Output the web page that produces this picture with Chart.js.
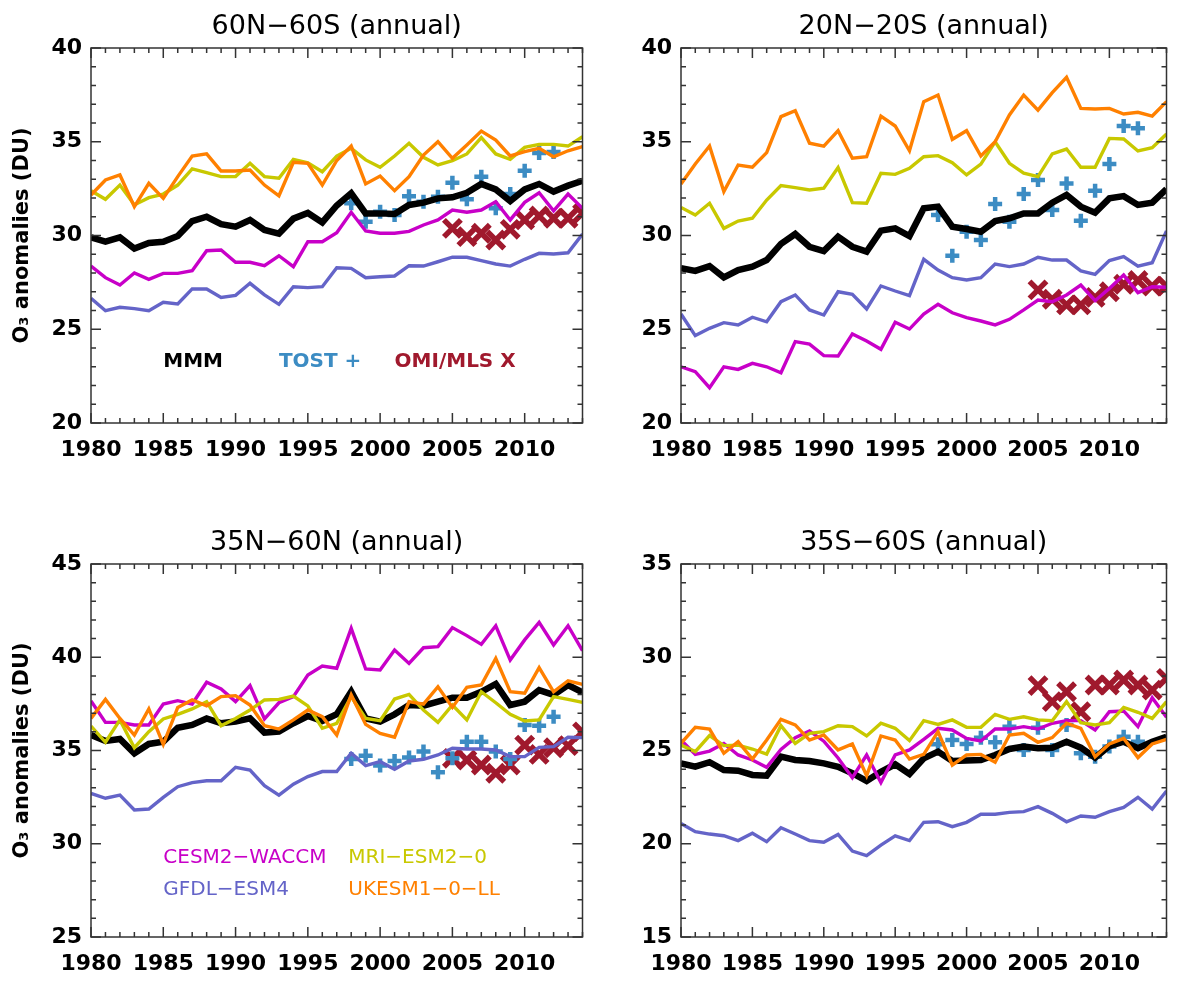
<!DOCTYPE html>
<html>
<head>
    <title>O3 anomalies</title>
    <script src="https://cdn.jsdelivr.net/npm/chart.js"></script>
    <style>
        body { margin: 0; background: #fff; }
        canvas { position: absolute; }
    </style>
</head>
<body>
    <canvas id="p1" width="600" height="491" style="left:0px;top:0px"></canvas>
    <canvas id="p2" width="584" height="491" style="left:600px;top:0px"></canvas>
    <canvas id="p3" width="600" height="491" style="left:0px;top:491px"></canvas>
    <canvas id="p4" width="584" height="491" style="left:600px;top:491px"></canvas>
    <script>
        // Years covered by the models, and by the two observation records
        const years = [1980, 1981, 1982, 1983, 1984, 1985, 1986, 1987, 1988, 1989,
                       1990, 1991, 1992, 1993, 1994, 1995, 1996, 1997, 1998, 1999,
                       2000, 2001, 2002, 2003, 2004, 2005, 2006, 2007, 2008, 2009,
                       2010, 2011, 2012, 2013, 2014];
        const tostYears = [1998, 1999, 2000, 2001, 2002, 2003, 2004, 2005, 2006, 2007, 2008, 2009, 2010, 2011, 2012];
        const omiYears = [2005, 2006, 2007, 2008, 2009, 2010, 2011, 2012, 2013, 2014];

        // 60N-60S
        const mmmGlobal = [29.9, 29.67, 29.9, 29.3, 29.6, 29.67, 29.97, 30.77, 31.0, 30.6, 30.47, 30.83, 30.3, 30.1, 30.9, 31.2, 30.7, 31.6, 32.25, 31.18, 31.18, 31.15, 31.63, 31.75, 31.98, 32.04, 32.28, 32.75, 32.46, 31.84, 32.46, 32.75, 32.34, 32.66, 32.92];
        const cesmGlobal = [28.37, 27.75, 27.36, 28.0, 27.66, 27.98, 27.98, 28.12, 29.19, 29.23, 28.57, 28.57, 28.39, 28.92, 28.34, 29.67, 29.67, 30.15, 31.24, 30.24, 30.12, 30.12, 30.22, 30.56, 30.83, 31.36, 31.24, 31.36, 31.8, 30.83, 31.77, 32.28, 31.32, 32.21, 31.45];
        const gfdlGlobal = [26.65, 25.99, 26.17, 26.1, 25.99, 26.44, 26.35, 27.15, 27.15, 26.7, 26.81, 27.45, 26.83, 26.33, 27.27, 27.22, 27.27, 28.28, 28.25, 27.75, 27.8, 27.84, 28.39, 28.37, 28.6, 28.84, 28.84, 28.66, 28.48, 28.37, 28.73, 29.05, 29.01, 29.08, 30.08];
        const mriGlobal = [32.39, 31.93, 32.69, 31.63, 32.02, 32.21, 32.69, 33.55, 33.35, 33.14, 33.14, 33.85, 33.14, 33.05, 34.06, 33.88, 33.4, 34.24, 34.65, 34.03, 33.64, 34.24, 34.92, 34.17, 33.76, 33.99, 34.35, 35.22, 34.35, 34.06, 34.7, 34.86, 34.86, 34.77, 35.27];
        const ukesmGlobal = [32.16, 32.96, 33.23, 31.54, 32.78, 31.98, 33.14, 34.24, 34.35, 33.44, 33.44, 33.49, 32.69, 32.12, 33.9, 33.85, 32.69, 34.0, 34.77, 32.75, 33.17, 32.39, 33.14, 34.29, 35.0, 34.12, 34.83, 35.57, 35.09, 34.24, 34.47, 34.65, 34.2, 34.52, 34.74];
        const tostGlobal = [31.72, 30.74, 31.27, 31.09, 32.1, 31.8, 32.07, 32.82, 31.93, 33.14, 31.45, 32.21, 33.46, 34.4, 34.45];
        const omiGlobal = [30.38, 29.94, 30.12, 29.76, 30.33, 30.83, 31.04, 30.92, 30.92, 31.18];

        // 20N-20S
        const mmmTropics = [28.25, 28.11, 28.37, 27.77, 28.16, 28.34, 28.69, 29.55, 30.08, 29.4, 29.17, 29.94, 29.4, 29.14, 30.26, 30.38, 29.97, 31.45, 31.54, 30.47, 30.35, 30.2, 30.77, 30.92, 31.18, 31.18, 31.75, 32.16, 31.54, 31.22, 31.98, 32.1, 31.63, 31.75, 32.48];
        const cesmTropics = [23.0, 22.74, 21.88, 23.0, 22.86, 23.18, 23.0, 22.68, 24.34, 24.21, 23.59, 23.57, 24.75, 24.37, 23.93, 25.37, 25.01, 25.81, 26.33, 25.88, 25.62, 25.44, 25.23, 25.53, 26.03, 26.56, 26.47, 26.83, 27.36, 26.52, 27.18, 27.89, 26.95, 27.27, 27.24];
        const gfdlTropics = [25.81, 24.66, 25.05, 25.35, 25.23, 25.64, 25.4, 26.47, 26.83, 26.03, 25.76, 27.0, 26.86, 26.08, 27.31, 27.04, 26.79, 28.73, 28.16, 27.75, 27.63, 27.75, 28.48, 28.34, 28.48, 28.84, 28.69, 28.69, 28.11, 27.93, 28.66, 28.87, 28.37, 28.55, 30.24];
        const mriTropics = [31.5, 31.09, 31.72, 30.38, 30.77, 30.92, 31.89, 32.66, 32.55, 32.43, 32.52, 33.62, 31.75, 31.72, 33.32, 33.26, 33.58, 34.2, 34.26, 33.88, 33.23, 33.81, 35.0, 33.85, 33.32, 33.14, 34.35, 34.61, 33.64, 33.64, 35.18, 35.15, 34.51, 34.68, 35.41];
        const ukesmTropics = [32.75, 33.81, 34.77, 32.34, 33.76, 33.64, 34.42, 36.34, 36.66, 34.92, 34.77, 35.59, 34.12, 34.2, 36.37, 35.84, 34.52, 37.14, 37.49, 35.13, 35.59, 34.24, 35.0, 36.43, 37.49, 36.69, 37.62, 38.44, 36.78, 36.75, 36.78, 36.48, 36.57, 36.37, 37.14];
        const tostTropics = [31.09, 28.92, 30.2, 29.76, 31.68, 30.74, 32.21, 32.96, 31.36, 32.78, 30.79, 32.39, 33.81, 35.84, 35.72];
        const omiTropics = [27.1, 26.6, 26.3, 26.3, 26.7, 27.0, 27.4, 27.6, 27.3, 27.3];

        // 35N-60N
        const mmmNorth = [35.83, 35.51, 35.62, 34.85, 35.35, 35.47, 36.22, 36.37, 36.72, 36.46, 36.55, 36.72, 35.96, 36.01, 36.46, 36.85, 36.58, 36.94, 38.15, 36.72, 36.55, 36.94, 37.44, 37.4, 37.62, 37.83, 37.83, 38.15, 38.57, 37.44, 37.62, 38.24, 37.98, 38.51, 38.12];
        const cesmNorth = [37.65, 36.51, 36.51, 36.37, 36.37, 37.49, 37.67, 37.49, 38.66, 38.3, 37.62, 38.48, 36.69, 37.56, 37.89, 39.05, 39.53, 39.41, 41.55, 39.37, 39.32, 40.39, 39.67, 40.51, 40.57, 41.59, 41.16, 40.69, 41.69, 39.85, 40.93, 41.87, 40.66, 41.69, 40.35];
        const gfdlNorth = [32.7, 32.44, 32.61, 31.81, 31.86, 32.49, 33.06, 33.28, 33.38, 33.38, 34.1, 33.95, 33.11, 32.61, 33.19, 33.6, 33.87, 33.87, 34.85, 34.19, 34.4, 33.99, 34.44, 34.53, 34.76, 35.12, 35.08, 35.08, 35.03, 34.67, 34.67, 35.17, 35.21, 35.71, 35.69];
        const mriNorth = [36.31, 35.44, 36.64, 35.15, 36.01, 36.69, 36.94, 37.23, 37.62, 36.33, 36.72, 37.17, 37.71, 37.74, 37.92, 37.39, 36.19, 36.46, 37.89, 36.72, 36.6, 37.76, 38.01, 37.17, 36.51, 37.44, 36.64, 38.15, 37.56, 36.94, 36.58, 36.64, 37.89, 37.74, 37.58];
        const ukesmNorth = [36.72, 37.74, 36.72, 35.83, 37.23, 35.33, 37.31, 37.71, 37.4, 37.89, 37.94, 37.44, 36.33, 36.15, 36.64, 37.17, 36.81, 35.83, 37.98, 36.4, 35.92, 35.71, 37.62, 37.49, 38.42, 37.31, 38.39, 38.51, 39.94, 38.15, 38.07, 39.44, 38.15, 38.74, 38.55];
        const tostNorth = [34.54, 34.72, 34.19, 34.44, 34.62, 34.94, 33.83, 34.58, 35.47, 35.47, 34.94, 34.54, 36.37, 36.33, 36.81];
        const omiNorth = [34.58, 34.49, 34.22, 33.78, 34.22, 35.29, 34.79, 35.15, 35.26, 36.0];

        // 35S-60S
        const mmmSouth = [24.31, 24.13, 24.37, 23.95, 23.92, 23.69, 23.65, 24.67, 24.49, 24.44, 24.31, 24.13, 23.78, 23.36, 23.86, 24.26, 23.74, 24.58, 24.94, 24.44, 24.46, 24.49, 24.76, 25.08, 25.21, 25.12, 25.15, 25.47, 25.15, 24.62, 25.24, 25.47, 25.12, 25.47, 25.74];
        const cesmSouth = [25.56, 24.79, 24.97, 25.38, 24.76, 24.49, 24.1, 25.06, 25.69, 26.05, 25.5, 24.6, 23.54, 24.76, 23.28, 24.76, 25.03, 25.6, 26.19, 26.1, 25.65, 25.51, 26.15, 26.15, 26.28, 26.15, 26.46, 26.6, 26.6, 26.1, 27.08, 27.12, 26.28, 27.83, 26.78];
        const gfdlSouth = [21.09, 20.65, 20.52, 20.43, 20.17, 20.56, 20.11, 20.86, 20.52, 20.17, 20.08, 20.5, 19.61, 19.36, 19.93, 20.42, 20.17, 21.15, 21.18, 20.92, 21.15, 21.58, 21.58, 21.68, 21.72, 21.99, 21.63, 21.18, 21.49, 21.42, 21.72, 21.95, 22.49, 21.86, 22.83];
        const mriSouth = [25.29, 24.94, 25.8, 25.26, 25.29, 25.08, 24.81, 26.33, 25.38, 25.92, 26.01, 26.33, 26.28, 25.78, 26.46, 26.19, 25.53, 26.6, 26.4, 26.64, 26.24, 26.24, 26.94, 26.67, 26.81, 26.64, 26.6, 27.62, 26.49, 26.37, 26.49, 27.31, 27.05, 26.72, 27.62];
        const ukesmSouth = [25.38, 26.24, 26.15, 24.85, 25.47, 24.54, 25.56, 26.67, 26.37, 25.56, 25.83, 25.03, 25.35, 23.65, 25.78, 25.56, 24.54, 24.79, 26.01, 24.22, 24.76, 24.79, 24.37, 25.83, 25.92, 25.44, 25.69, 26.46, 26.19, 24.67, 25.35, 25.65, 24.62, 25.35, 25.6];
        const tostSouth = [25.33, 25.56, 25.35, 25.69, 25.44, 26.28, 25.03, 26.22, 25.03, 26.37, 24.85, 24.67, 25.21, 25.74, 25.47];
        const omiSouth = [28.48, 27.62, 28.15, 27.08, 28.51, 28.51, 28.78, 28.51, 28.24, 28.87];

        const colors = {
            mmm: '#000000',
            cesm: 'rgb(200, 0, 200)',
            gfdl: 'rgb(100, 100, 200)',
            mri: 'rgb(200, 200, 0)',
            ukesm: 'rgb(255, 128, 0)',
            tost: 'rgb(60, 140, 195)',
            omi: 'rgb(160, 25, 45)'
        };

        // IDL-style box: frame plus inward ticks on all four sides
        const frameTicks = {
            id: 'frameTicks',
            afterDatasetsDraw(chart) {
                const {ctx, chartArea: a, scales: {x, y}} = chart;
                ctx.save();
                ctx.strokeStyle = '#333';
                ctx.lineWidth = 1.5;
                ctx.strokeRect(a.left, a.top, a.right - a.left, a.bottom - a.top);
                ctx.beginPath();
                for (let yr = x.min; yr <= x.max; yr++) {
                    const px = x.getPixelForValue(yr);
                    const len = yr % 5 === 0 ? 10 : 5;
                    ctx.moveTo(px, a.bottom); ctx.lineTo(px, a.bottom - len);
                    ctx.moveTo(px, a.top); ctx.lineTo(px, a.top + len);
                }
                for (let v = y.min; v <= y.max; v++) {
                    const py = y.getPixelForValue(v);
                    const len = v % 5 === 0 ? 10 : 5;
                    ctx.moveTo(a.left, py); ctx.lineTo(a.left + len, py);
                    ctx.moveTo(a.right, py); ctx.lineTo(a.right - len, py);
                }
                ctx.stroke();
                ctx.restore();
            }
        };

        function points(xs, ys) {
            return ys.map((v, i) => ({x: xs[i], y: v}));
        }

        function modelLine(label, values, color, width, order) {
            return {
                label: label,
                data: points(years, values),
                borderColor: color,
                borderWidth: width,
                pointRadius: 0,
                fill: false,
                order: order
            };
        }

        function makePanel(id, p) {
            // free text inside the box, placed in data coordinates
            const notes = {
                id: 'notes',
                afterDraw(chart) {
                    const {ctx, scales: {x, y}} = chart;
                    ctx.save();
                    ctx.textAlign = 'left';
                    ctx.textBaseline = 'middle';
                    p.notes.forEach(n => {
                        ctx.font = n.font;
                        ctx.fillStyle = n.color;
                        ctx.fillText(n.text, x.getPixelForValue(n.x), y.getPixelForValue(n.y));
                    });
                    ctx.restore();
                }
            };

            const ctx = document.getElementById(id).getContext('2d');
            new Chart(ctx, {
                type: 'line',
                data: {
                    datasets: [
                        modelLine('UKESM1-0-LL', p.ukesm, colors.ukesm, 3.4, 1),
                        modelLine('MRI-ESM2-0', p.mri, colors.mri, 3.4, 2),
                        modelLine('GFDL-ESM4', p.gfdl, colors.gfdl, 3.4, 3),
                        modelLine('CESM2-WACCM', p.cesm, colors.cesm, 3.4, 4),
                        modelLine('MMM', p.mmm, colors.mmm, 6.5, 5),
                        {
                            label: 'TOST',
                            data: points(tostYears, p.tost),
                            showLine: false,
                            pointStyle: 'cross',
                            pointRadius: 7,
                            pointBorderWidth: 4.5,
                            borderColor: colors.tost,
                            backgroundColor: colors.tost,
                            order: 6
                        },
                        {
                            label: 'OMI/MLS',
                            data: points(omiYears, p.omi),
                            showLine: false,
                            pointStyle: 'crossRot',
                            pointRadius: 12,
                            pointBorderWidth: 5.5,
                            borderColor: colors.omi,
                            backgroundColor: colors.omi,
                            order: 7
                        }
                    ]
                },
                options: {
                    responsive: false,
                    animation: false,
                    events: [],
                    layout: { padding: { left: 0, right: p.padRight, top: 0, bottom: 0 } },
                    plugins: {
                        legend: { display: false },
                        tooltip: { enabled: false },
                        title: {
                            display: true,
                            text: p.title,
                            fullSize: false,
                            color: '#000',
                            font: { family: 'DejaVu Sans', size: 27, weight: 'normal', lineHeight: 1 },
                            padding: { top: p.titleTop, bottom: 7.5 }
                        }
                    },
                    scales: {
                        x: {
                            type: 'linear',
                            min: 1980,
                            max: 2014,
                            grid: { display: false, drawTicks: false },
                            border: { display: false },
                            ticks: {
                                stepSize: 5,
                                includeBounds: false,
                                autoSkip: false,
                                maxRotation: 0,
                                padding: 14,
                                color: '#000',
                                font: { family: 'DejaVu Sans', size: 22, weight: 'bold' },
                                callback: v => String(v)
                            },
                            afterFit: s => { s.height = p.xHeight; }
                        },
                        y: {
                            min: p.yMin,
                            max: p.yMax,
                            grid: { display: false, drawTicks: false },
                            border: { display: false },
                            ticks: {
                                stepSize: 5,
                                padding: 9,
                                color: '#000',
                                font: { family: 'DejaVu Sans', size: 22, weight: 'bold' },
                                callback: v => String(v)
                            },
                            title: {
                                display: p.yTitle,
                                text: 'O₃ anomalies (DU)',
                                color: '#000',
                                font: { family: 'DejaVu Sans', size: 21, weight: 'bold', lineHeight: 1.2 },
                                padding: { top: 10, bottom: 0 }
                            },
                            afterFit: s => { s.width = p.yWidth; }
                        }
                    }
                },
                plugins: [frameTicks, notes]
            });
        }

        const boldNote = 'bold 20px "DejaVu Sans"';
        const plainNote = '20px "DejaVu Sans"';

        makePanel('p1', {
            title: '60N−60S (annual)', titleTop: 13.5, xHeight: 68, yWidth: 91, padRight: 8, yTitle: true,
            yMin: 20, yMax: 40,
            mmm: mmmGlobal, cesm: cesmGlobal, gfdl: gfdlGlobal, mri: mriGlobal, ukesm: ukesmGlobal,
            tost: tostGlobal, omi: omiGlobal,
            notes: [
                { text: 'MMM', x: 1985, y: 23.25, color: colors.mmm, font: boldNote },
                { text: 'TOST +', x: 1993, y: 23.25, color: colors.tost, font: boldNote },
                { text: 'OMI/MLS X', x: 2001, y: 23.25, color: colors.omi, font: boldNote }
            ]
        });

        makePanel('p2', {
            title: '20N−20S (annual)', titleTop: 13.5, xHeight: 68, yWidth: 81, padRight: 2, yTitle: false,
            yMin: 20, yMax: 40,
            mmm: mmmTropics, cesm: cesmTropics, gfdl: gfdlTropics, mri: mriTropics, ukesm: ukesmTropics,
            tost: tostTropics, omi: omiTropics,
            notes: []
        });

        makePanel('p3', {
            title: '35N−60N (annual)', titleTop: 38.5, xHeight: 45, yWidth: 91, padRight: 8, yTitle: true,
            yMin: 25, yMax: 45,
            mmm: mmmNorth, cesm: cesmNorth, gfdl: gfdlNorth, mri: mriNorth, ukesm: ukesmNorth,
            tost: tostNorth, omi: omiNorth,
            notes: [
                { text: 'CESM2−WACCM', x: 1985, y: 29.24, color: colors.cesm, font: plainNote },
                { text: 'GFDL−ESM4', x: 1985, y: 27.52, color: colors.gfdl, font: plainNote },
                { text: 'MRI−ESM2−0', x: 1997.8, y: 29.24, color: colors.mri, font: plainNote },
                { text: 'UKESM1−0−LL', x: 1997.8, y: 27.52, color: colors.ukesm, font: plainNote }
            ]
        });

        makePanel('p4', {
            title: '35S−60S (annual)', titleTop: 38.5, xHeight: 45, yWidth: 81, padRight: 2, yTitle: false,
            yMin: 15, yMax: 35,
            mmm: mmmSouth, cesm: cesmSouth, gfdl: gfdlSouth, mri: mriSouth, ukesm: ukesmSouth,
            tost: tostSouth, omi: omiSouth,
            notes: []
        });
    </script>
</body>
</html>
